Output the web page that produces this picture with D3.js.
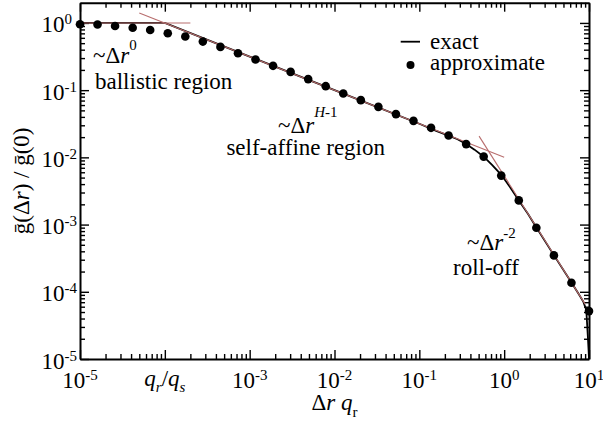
<!DOCTYPE html>
<html><head><meta charset="utf-8">
<script src="https://cdn.jsdelivr.net/npm/d3@7"></script>
<style>
body{margin:0;background:#fff}
svg{display:block}
svg text{font-family:'Liberation Serif','Times New Roman',Times,'DejaVu Serif',serif;fill:#000}
</style>
</head><body>
<svg id="chart" width="603" height="423" font-family="'Liberation Serif', 'Times New Roman', Times, 'DejaVu Serif', serif"></svg>
<script>
// ---- data ----
const xMajorTicks = [1e-5, 1e-4, 1e-3, 1e-2, 1e-1, 1, 10];
const xTickExponents = ["-5", null, "-3", "-2", "-1", "0", "1"];
const yMajorTicks = [1, 1e-1, 1e-2, 1e-3, 1e-4, 1e-5];
const yTickExponents = ["0", "-1", "-2", "-3", "-4", "-5"];

const approxX = [1e-5, 1.61e-5, 2.59e-5, 4.18e-5, 6.72e-5, 1.083e-4, 1.743e-4, 2.807e-4, 4.52e-4, 7.279e-4,
  1.172e-3, 1.887e-3, 3.039e-3, 4.894e-3, 7.88e-3, 1.269e-2, 2.043e-2, 3.29e-2, 5.298e-2, 8.532e-2,
  0.1374, 0.2212, 0.3562, 0.5736, 0.9237, 1.487, 2.395, 3.857, 6.211, 10];
const approxY = [0.957, 0.946, 0.90, 0.85, 0.785, 0.703, 0.627, 0.528, 0.440, 0.354,
  0.286, 0.230, 0.187, 0.146, 0.1146, 0.0891, 0.0710, 0.0564, 0.0440, 0.0349,
  0.0275, 0.0212, 0.01574, 0.01026, 0.00535, 0.00229, 0.000895, 0.000348, 0.000136, 0.0000516];

const exactX = [1e-5, 1e-4, 1e-3, 1e-2, 0.1, 0.158, 0.221, 0.282, 0.356, 0.447, 0.574, 0.724, 0.925,
  1.175, 1.49, 1.905, 2.40, 3.855, 6.21, 7.53, 8.59, 9.29, 9.70, 9.89, 10];
const exactY = [1, 1, 0.316, 0.1, 0.0316, 0.0248, 0.0211, 0.0186, 0.0158, 0.01303, 0.01023, 0.00767, 0.0055,
  0.00359, 0.00229, 0.001445, 0.000902, 0.000351, 0.0001374, 0.0000933, 0.0000708, 0.0000537, 0.0000214, 0.0000135, 0.00001];

const guideBallisticX = [1e-5, 2.0e-4];
const guideBallisticY = [1, 1];
const guideSelfAffineX = [5.0e-5, 1.0];
const guideSelfAffineY = [1.41, 0.01];
const guideRollOffX = [0.506, 9.0];
const guideRollOffY = [0.0207, 0.0000655];

// ---- layout ----
const FONT = "'Liberation Serif', 'Times New Roman', Times, 'DejaVu Serif', serif";
const L = 80, R = 589, T = 2.7, B = 359;
const svg = d3.select("#chart");
const x = d3.scaleLog().domain([1e-5, 10]).range([L, R]);
const y = d3.scaleLog().domain([1e-5, 2]).range([B, T]);

const isMajor = v => Math.abs(Math.log10(v) - Math.round(Math.log10(v))) < 1e-9;
const xTicks = x.ticks();
const yTicks = y.ticks().filter(v => v <= 1.0000001);

function styleAxis(g, vertical, sign) {
  g.select(".domain").attr("stroke", "#000").attr("stroke-width", 2);
  g.selectAll(".tick line").attr("stroke", "#000").attr("stroke-width", 1.4)
    .each(function(d) {
      const len = isMajor(d) ? 9 : 5;
      d3.select(this).attr(vertical ? "x2" : "y2", sign * len);
    });
  g.selectAll(".tick text").remove();
}

svg.append("g").attr("transform", `translate(0,${B})`)
  .call(d3.axisBottom(x).tickValues(xTicks).tickSizeOuter(0).tickFormat(""))
  .call(g => styleAxis(g, false, -1));
svg.append("g").attr("transform", `translate(0,${T})`)
  .call(d3.axisTop(x).tickValues(xTicks).tickSizeOuter(0).tickFormat(""))
  .call(g => styleAxis(g, false, 1));
svg.append("g").attr("transform", `translate(${L},0)`)
  .call(d3.axisLeft(y).tickValues(yTicks).tickSizeOuter(0).tickFormat(""))
  .call(g => styleAxis(g, true, 1));
svg.append("g").attr("transform", `translate(${R},0)`)
  .call(d3.axisRight(y).tickValues(yTicks).tickSizeOuter(0).tickFormat(""))
  .call(g => styleAxis(g, true, -1));

const FS = 23, SFS = 15;
function txt(px, py) {
  return svg.append("text").attr("x", px).attr("y", py)
    .attr("font-family", FONT).attr("font-size", FS);
}

// ---- tick labels ----
xMajorTicks.forEach((v, i) => {
  if (xTickExponents[i] === null) return;
  const t = txt(x(v), 388).attr("text-anchor", "middle");
  t.append("tspan").text("10");
  t.append("tspan").attr("font-size", SFS).attr("dy", -8).text(xTickExponents[i]);
});
{
  const t = txt(x(1e-4), 386).attr("text-anchor", "middle");
  t.append("tspan").attr("font-style", "italic").text("q");
  t.append("tspan").attr("font-style", "italic").attr("font-size", SFS).attr("dy", 6).text("r");
  t.append("tspan").attr("dy", -6).text("/");
  t.append("tspan").attr("font-style", "italic").text("q");
  t.append("tspan").attr("font-style", "italic").attr("font-size", SFS).attr("dy", 6).text("s");
}
yMajorTicks.forEach((v, i) => {
  const t = txt(41.5, y(v) + 9.5).attr("text-anchor", "start");
  t.append("tspan").text("10");
  t.append("tspan").attr("font-size", SFS).attr("dy", -8).text(yTickExponents[i]);
});

// ---- axis titles ----
{
  const t = txt((L + R) / 2, 410).attr("text-anchor", "middle");
  t.append("tspan").text("Δ");
  t.append("tspan").attr("font-style", "italic").text("r ");
  t.append("tspan").attr("font-style", "italic").text("q");
  t.append("tspan").attr("font-size", SFS).attr("dy", 7).text("r");
}
{
  const t = svg.append("text").attr("transform", `translate(29,${(T + B) / 2}) rotate(-90)`)
    .attr("font-family", FONT).attr("text-anchor", "middle").attr("font-size", FS);
  t.append("tspan").text("ḡ(Δ");
  t.append("tspan").attr("font-style", "italic").text("r");
  t.append("tspan").text(") / ḡ(0)");
}

// ---- curves ----
const line = d3.line().x(d => x(d[0])).y(d => y(d[1]));
svg.append("path").datum(d3.zip(exactX, exactY))
  .attr("d", line).attr("fill", "none").attr("stroke", "#000").attr("stroke-width", 1.8);

[[guideBallisticX, guideBallisticY], [guideSelfAffineX, guideSelfAffineY], [guideRollOffX, guideRollOffY]]
  .forEach(([gx, gy]) => {
    svg.append("path").datum(d3.zip(gx, gy))
      .attr("d", line).attr("fill", "none").attr("stroke", "#b86e6e").attr("stroke-width", 1.1);
  });

svg.append("g").selectAll("circle").data(d3.zip(approxX, approxY)).join("circle")
  .attr("cx", d => x(d[0])).attr("cy", d => y(d[1])).attr("r", 4.3).attr("fill", "#000");

// ---- annotations ----
function powerLabel(px, py, expParts, dy) {
  const t = txt(px, py);
  t.append("tspan").text("~Δ");
  t.append("tspan").attr("font-style", "italic").text("r");
  expParts.forEach((p, k) => {
    const s = t.append("tspan").attr("font-size", SFS).text(p.text);
    if (k === 0) s.attr("dy", dy);
    if (p.italic) s.attr("font-style", "italic");
  });
}
powerLabel(93, 63, [{text: "0"}], -13);
txt(95, 89).text("ballistic region");
powerLabel(278, 133, [{text: "H", italic: true}, {text: "-1"}], -16);
txt(385, 155).attr("text-anchor", "end").text("self-affine region");
powerLabel(467, 250, [{text: "-2"}], -12);
txt(453, 275).text("roll-off");

// ---- legend ----
svg.append("line").attr("x1", 400.7).attr("x2", 420).attr("y1", 41.7).attr("y2", 41.7)
  .attr("stroke", "#000").attr("stroke-width", 1.8);
txt(430, 49).text("exact");
svg.append("circle").attr("cx", 410.5).attr("cy", 65).attr("r", 4).attr("fill", "#000");
txt(430, 70).text("approximate");
</script>
</body></html>
